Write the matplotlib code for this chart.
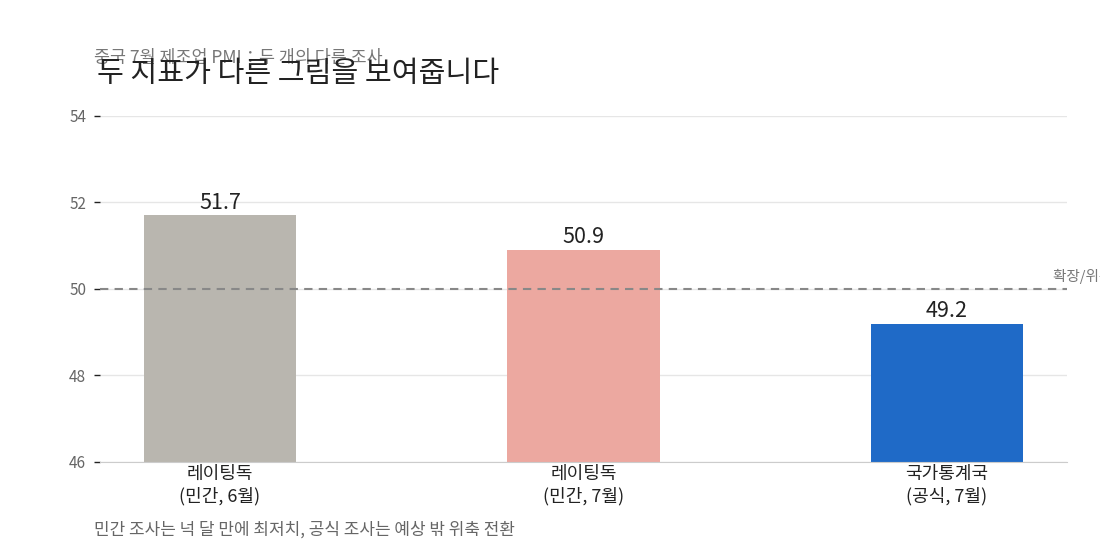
import matplotlib
matplotlib.use("Agg")
import matplotlib.pyplot as plt

plt.rcParams['font.family'] = ['Noto Sans CJK KR', 'DejaVu Sans']

categories = ["레이팅독\n(민간, 6월)", "레이팅독\n(민간, 7월)", "국가통계국\n(공식, 7월)"]
values = [51.7, 50.9, 49.2]
value_labels = ["51.7", "50.9", "49.2"]
colors = ["#b9b6af", "#eca8a0", "#1f6ac7"]
yticks = [46, 48, 50, 52, 54]
threshold = 50

fig = plt.figure(figsize=(11, 5.5), dpi=100)
ax = fig.add_axes([100/1100, 1-462/550, 967/1100, 346/550])

x = list(range(len(categories)))
base = 46
ax.bar(x, [v - base for v in values], bottom=base, width=0.42, color=colors, zorder=2)
for xi, v, lab in zip(x, values, value_labels):
    ax.text(xi, v + 0.04, lab, ha='center', va='bottom', fontsize=15.5, color='#222222')

ax.axhline(threshold, color='#888888', linestyle=(0, (4, 3)), linewidth=1.5, zorder=3)
ax.text(1.0 - 0.014, threshold + 0.12, "확장/위축 기준", transform=ax.get_yaxis_transform(),
        fontsize=10.5, color='#777777', ha='left', va='bottom')

ax.set_xlim(-0.33, 2.33)
ax.set_ylim(46, 54)
ax.set_yticks(yticks)
ax.set_yticklabels([str(t) for t in yticks], fontsize=11, color='#666666')
ax.set_xticks(x)
ax.set_xticklabels(categories, fontsize=13, color='#222222', linespacing=1.3)
ax.tick_params(axis='x', length=0, pad=2)
ax.tick_params(axis='y', length=4, width=1, color='#222222', pad=6)
ax.grid(axis='y', color='#e6e6e6', linewidth=1, zorder=0)
for s in ['top', 'right', 'left']:
    ax.spines[s].set_visible(False)
ax.spines['bottom'].set_color('#cccccc')
ax.set_axisbelow(True)

fig.text(94/1100, 1-58/550, "중국 7월 제조업 PMI：두 개의 다른 조사", fontsize=12.5, color='#777777',
         ha='left', va='center')
fig.text(97/1100, 1-74/550, "두 지표가 다른 그림을 보여줍니다", fontsize=21, color='#222222',
         ha='left', va='center')
fig.text(94/1100, 1-530/550, "민간 조사는 넉 달 만에 최저치, 공식 조사는 예상 밖 위축 전환", fontsize=12.2,
         color='#666666', ha='left', va='center')

fig.savefig("out.png", dpi=100)
